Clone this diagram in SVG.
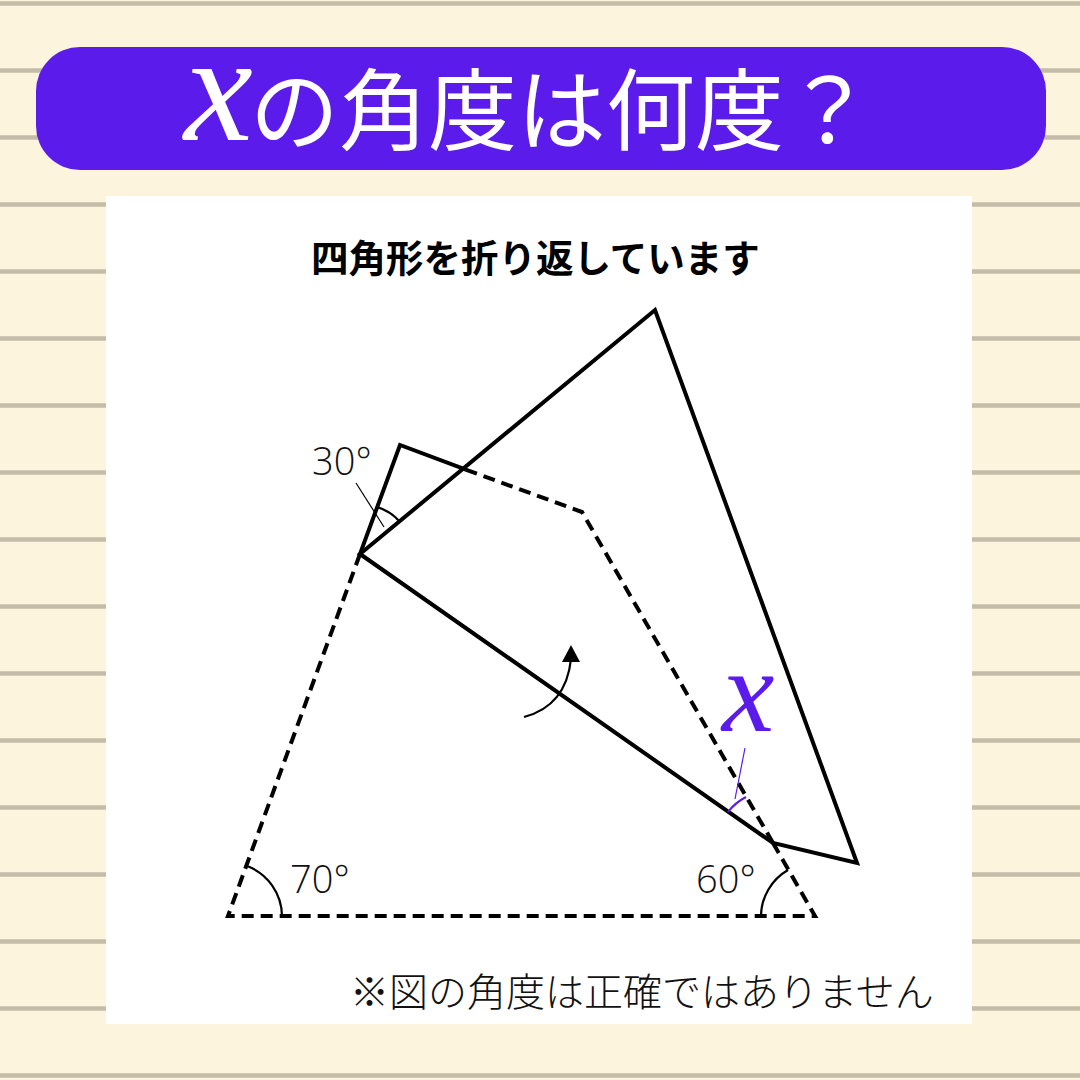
<svg xmlns="http://www.w3.org/2000/svg" width="1080" height="1080" viewBox="0 0 1080 1080">
<defs>
<style>
.rule{stroke:#c4bca8;stroke-width:4.5}
.solid{fill:none;stroke:#000;stroke-width:4;stroke-linejoin:miter;stroke-linecap:square}
.dash{fill:none;stroke:#000;stroke-width:4;stroke-dasharray:12 7}
.arc{fill:none;stroke:#000;stroke-width:2.2}
.thin{fill:none;stroke:#000;stroke-width:1.2}
.lbl{font-family:"Open Sans","Noto Sans",sans-serif;font-weight:300;font-size:38px;fill:#111}
.cjk{font-family:"Noto Sans CJK JP",sans-serif}
.ital{font-family:"Liberation Serif",serif;font-style:italic}
</style>
</defs>
<rect width="1080" height="1080" fill="#fdf4de"/>
<g id="rules">
<line class="rule" x1="0" y1="3.5" x2="1080" y2="3.5"/>
<line class="rule" x1="0" y1="70.5" x2="1080" y2="70.5"/>
<line class="rule" x1="0" y1="137.5" x2="1080" y2="137.5"/>
<line class="rule" x1="0" y1="204.5" x2="1080" y2="204.5"/>
<line class="rule" x1="0" y1="271.5" x2="1080" y2="271.5"/>
<line class="rule" x1="0" y1="338.5" x2="1080" y2="338.5"/>
<line class="rule" x1="0" y1="405.5" x2="1080" y2="405.5"/>
<line class="rule" x1="0" y1="472.5" x2="1080" y2="472.5"/>
<line class="rule" x1="0" y1="539.5" x2="1080" y2="539.5"/>
<line class="rule" x1="0" y1="606.5" x2="1080" y2="606.5"/>
<line class="rule" x1="0" y1="673.5" x2="1080" y2="673.5"/>
<line class="rule" x1="0" y1="740.5" x2="1080" y2="740.5"/>
<line class="rule" x1="0" y1="807.5" x2="1080" y2="807.5"/>
<line class="rule" x1="0" y1="874.5" x2="1080" y2="874.5"/>
<line class="rule" x1="0" y1="941.5" x2="1080" y2="941.5"/>
<line class="rule" x1="0" y1="1008.5" x2="1080" y2="1008.5"/>
<line class="rule" x1="0" y1="1075.5" x2="1080" y2="1075.5"/>
</g>
<g id="title">
<rect x="36" y="47" width="1010" height="123" rx="44" fill="#5b1bea"/>
<text class="ital" x="184" y="140" font-size="155" fill="#fff">x</text>
<text class="cjk" x="250" y="143" font-size="89" font-weight="400" fill="#fff">の角度は何度？</text>
</g>
<rect id="panel" x="106" y="196" width="866" height="828" fill="#fff"/>
<text id="subtitle" class="cjk" x="311" y="272" font-size="37.5" font-weight="700" fill="#000">四角形を折り返しています</text>
<g id="original">
<polyline class="dash" points="360,554 228,916 815,916 773,843"/>
<polyline class="dash" points="773,843 582,512 464,469"/>
<polyline class="solid" points="464,469 400,445 360,554"/>
</g>
<g id="flap">
<polygon class="solid" points="360,554 655,310 857,863 773,843"/>
</g>
<g id="arrow">
<path class="arc" d="M524,717 Q566,706 571,659"/>
<polygon points="571,645 562,662 580,662" fill="#000"/>
</g>
<g id="angles">
<path class="arc" d="M377,507 A50,50 0 0 1 400,522"/>
<line class="thin" x1="356" y1="483" x2="384" y2="527"/>
<text class="lbl" x="312" y="475">30°</text>
<path class="arc" d="M247,866 A54,54 0 0 1 282,916"/>
<text class="lbl" x="290" y="893">70°</text>
<path class="arc" d="M761,916 A54,54 0 0 1 788,870"/>
<text class="lbl" x="696" y="893">60°</text>
<path d="M728,812 A54,54 0 0 1 746,797" fill="none" stroke="#5b1bea" stroke-width="2"/>
<line x1="745" y1="748" x2="735" y2="799" stroke="#5b1bea" stroke-width="1.2"/>
<text class="ital" x="722" y="731" font-size="118" fill="#5b1bea">x</text>
</g>
<text id="note" class="cjk" x="350" y="1006" font-size="39" font-weight="300" fill="#111">※図の角度は正確ではありません</text>
</svg>
